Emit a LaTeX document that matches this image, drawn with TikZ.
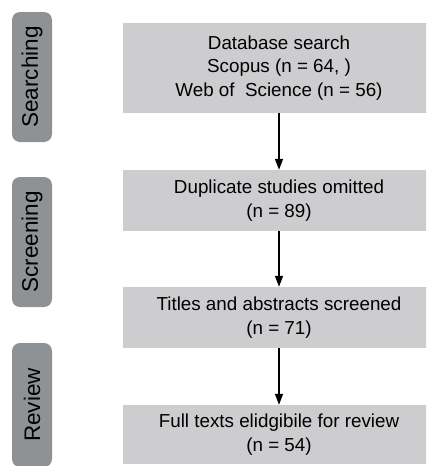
\documentclass[tikz,border=0pt]{standalone}
\usepackage{fontspec}
\setmainfont{Liberation Sans}
\usetikzlibrary{arrows.meta}
\definecolor{boxgrey}{HTML}{CDCDD0}
\definecolor{pillgrey}{HTML}{8E9294}
\begin{document}
\begin{tikzpicture}[x=1pt,y=-1pt,
  stagebox/.style={fill=boxgrey, draw=none, minimum width=312pt, inner sep=0pt,
    align=center, font=\fontsize{18.8}{23.5}\selectfont, text=black},
  pill/.style={fill=pillgrey, draw=none, rounded corners=8pt, rotate=90,
    minimum height=40pt, inner sep=0pt, font=\fontsize{22.5}{26}\selectfont, text=black},
  flow/.style={-{Triangle[width=8pt,length=11pt]}, line width=1.4pt, black}]
\useasboundingbox (0,0) rectangle (426,466);
\clip (0,0) rectangle (426,466);
% phase pills
\node[pill, minimum width=130pt] (p1) at (32,77) {Searching};
\node[pill, minimum width=130pt] (p2) at (32,242) {Screening};
\node[pill, minimum width=124pt] (p3) at (32,405) {Review};
% boxes
\node[stagebox, minimum height=90pt] (b1) at (279,68) {Database search\\Scopus (n = 64, )\\Web of\ \ Science (n = 56)};
\node[stagebox, minimum height=61pt] (b2) at (279,200.5) {Duplicate studies omitted\\(n = 89)};
\node[stagebox, minimum height=61pt] (b3) at (279,317.5) {Titles and abstracts screened\\(n = 71)};
\node[stagebox, minimum height=59pt] (b4) at (279,434.5) {Full texts elidgibile for review\\(n = 54)};
% arrows
\draw[flow] (b1.south) -- (b2.north);
\draw[flow] (b2.south) -- (b3.north);
\draw[flow] (b3.south) -- (b4.north);
\end{tikzpicture}
\end{document}
